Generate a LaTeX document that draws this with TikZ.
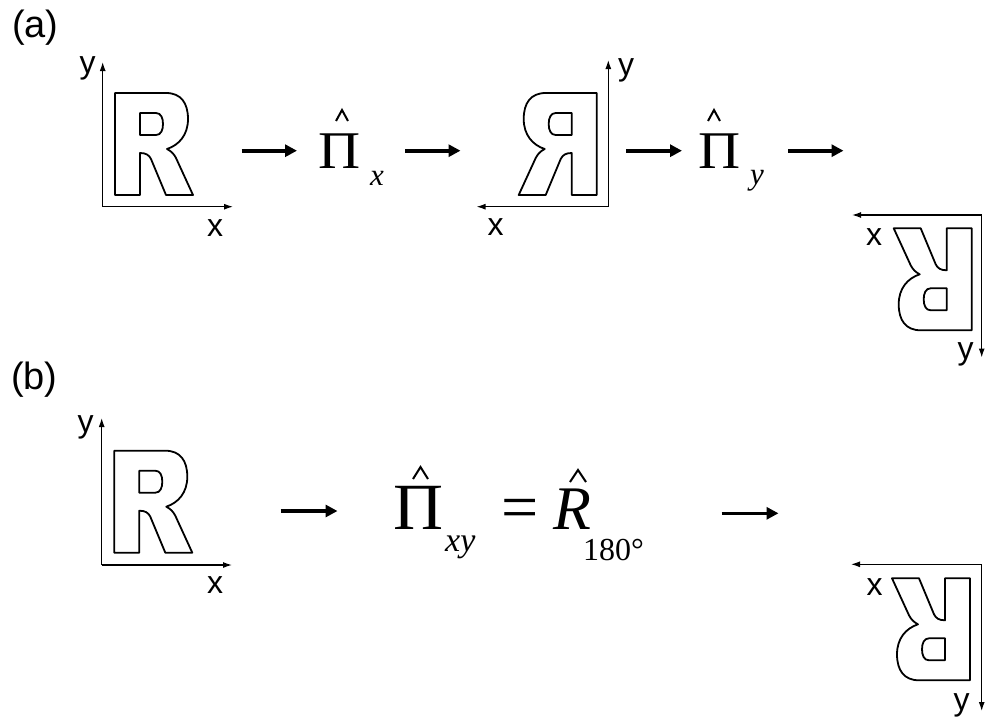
\documentclass[tikz,border=0pt]{standalone}
\usepackage{fontspec}
\usepackage{graphicx}
\setmainfont{Liberation Serif}
\newfontfamily\labfont{Liberation Sans}
\usetikzlibrary{arrows.meta}
\tikzset{
  glyph/.style={draw=black, line width=1.8pt, line join=round, fill=white},
  axis/.style={draw=black, line width=1.2pt, -{Latex[length=9pt,width=6pt]}},
  bigarrow/.style={draw=black, line width=3.6pt, -{Triangle[length=12pt,width=12pt]}},
  hatmark/.style={draw=black, line width=2pt, line join=miter},
  axlab/.style={inner sep=0pt, anchor=base, font=\labfont\fontsize{32}{32}\selectfont},
  panlab/.style={inner sep=0pt, anchor=base west, font=\labfont\fontsize{38}{38}\selectfont},
  mathbit/.style={inner sep=0pt, anchor=base west}
}
\newcommand{\Rglyph}{%
  \draw[glyph] (0,0) -- (0,-102) -- (51,-102)
    .. controls (66,-102) and (73,-92) .. (73,-76)
    .. controls (73,-60) and (64,-50) .. (52,-46)
    .. controls (56,-44) and (59,-41) .. (61,-37)
    -- (78,0) -- (51,0) -- (36,-36)
    .. controls (34,-40) and (31,-42) .. (25,-42)
    -- (25,0) -- cycle;
  \draw[glyph] (25,-82) -- (41,-82)
    .. controls (46,-82) and (48,-77) .. (48,-71)
    .. controls (48,-65) and (46,-60) .. (41,-60)
    -- (25,-60) -- cycle;
}
\begin{document}
\begin{tikzpicture}[x=1pt,y=-1pt]
\useasboundingbox (0,0) rectangle (988,728);
\fill[white] (0,0) rectangle (988,728);

% panel labels
\node[panlab] (la) at (12,37) {(a)};
\node[panlab] (lb) at (11,389) {(b)};

% ---------- (a) ----------
% first frame
\coordinate (o1) at (102.7,206.7);
\coordinate (y1) at (102.7,62);
\coordinate (x1) at (233,206.7);
\draw[axis] (o1) -- (y1);
\draw[axis] (o1) -- (x1);
\node[axlab] (ly1) at (87.5,73.5) {y};
\node[axlab] (lx1) at (215,236.5) {x};
\begin{scope}[shift={(115,195)}]\Rglyph\end{scope}

% second frame (mirrored)
\coordinate (o2) at (608.3,206.7);
\coordinate (y2) at (608.3,60);
\coordinate (x2) at (476.5,206.7);
\draw[axis] (o2) -- (y2);
\draw[axis] (o2) -- (x2);
\node[axlab] (ly2) at (626,75) {y};
\node[axlab] (lx2) at (495.5,235) {x};
\begin{scope}[shift={(596.7,195)},xscale=-1]\Rglyph\end{scope}

% third frame (rotated)
\coordinate (o3) at (981.7,215);
\coordinate (x3) at (852,215);
\coordinate (y3) at (981.7,357.5);
\draw[axis] (o3) -- (x3);
\draw[axis] (o3) -- (y3);
\node[axlab] (lx3) at (874,245) {x};
\node[axlab] (ly3) at (965.7,359.5) {y};
\begin{scope}[shift={(971.7,228.3)},rotate=180]\Rglyph\end{scope}

% operators
\node[mathbit] (pix) at (318,168) {\fontsize{53}{53}\selectfont\scalebox{1.1}[1]{Π}};
\node[mathbit] (subx) at (370,185) {\fontsize{31}{31}\selectfont\itshape x};
\draw[hatmark] (336,121) -- (342,110) -- (348,121);

\node[mathbit] (piy) at (698,168) {\fontsize{53}{53}\selectfont\scalebox{1.1}[1]{Π}};
\node[mathbit] (suby) at (750,184) {\fontsize{31}{31}\selectfont\itshape y};
\draw[hatmark] (708,121) -- (714,110) -- (720,121);

\coordinate (a1s) at (241.7,150.7); \coordinate (a1e) at (297,150.7);
\coordinate (a2s) at (405,150.7);   \coordinate (a2e) at (460.5,150.7);
\coordinate (a3s) at (626,150.7);   \coordinate (a3e) at (682,150.7);
\coordinate (a4s) at (788,150.7);   \coordinate (a4e) at (843.5,150.7);
\draw[bigarrow] (a1s) -- (a1e);
\draw[bigarrow] (a2s) -- (a2e);
\draw[bigarrow] (a3s) -- (a3e);
\draw[bigarrow] (a4s) -- (a4e);

% ---------- (b) ----------
\coordinate (o4) at (101.7,565);
\coordinate (y4) at (101.7,418);
\coordinate (x4) at (232,565);
\draw[axis] (o4) -- (y4);
\draw[axis] (o4) -- (x4);
\node[axlab] (ly4) at (85.5,432) {y};
\node[axlab] (lx4) at (215,593) {x};
\begin{scope}[shift={(114.3,552.7)}]\Rglyph\end{scope}

\coordinate (o5) at (981.7,564.3);
\coordinate (x5) at (851,564.3);
\coordinate (y5) at (981.7,711);
\draw[axis] (o5) -- (x5);
\draw[axis] (o5) -- (y5);
\node[axlab] (lx5) at (874.7,595) {x};
\node[axlab] (ly5) at (961.7,710) {y};
\begin{scope}[shift={(970,578.3)},rotate=180]\Rglyph\end{scope}

\node[mathbit] (pixy) at (393,529.3) {\fontsize{66}{66}\selectfont\scalebox{1.05}[1]{Π}};
\node[mathbit] (subxy) at (445,551) {\fontsize{34}{34}\selectfont\itshape xy};
\draw[hatmark] (413,479) -- (420.5,467) -- (428,479);
\node[mathbit] (eq) at (501,529.3) {\fontsize{66}{66}\selectfont =};
\node[mathbit] (rr) at (553,529.3) {\fontsize{62}{62}\selectfont\itshape R};
\node[mathbit] (sub180) at (583,560) {\fontsize{32}{32}\selectfont 180°};
\draw[hatmark] (570,482) -- (578,470) -- (586,482);

\coordinate (b1s) at (280.7,511); \coordinate (b1e) at (337.5,511);
\coordinate (b2s) at (721.7,513.3); \coordinate (b2e) at (778.5,513.3);
\draw[bigarrow] (b1s) -- (b1e);
\draw[bigarrow] (b2s) -- (b2e);
\end{tikzpicture}
\end{document}
